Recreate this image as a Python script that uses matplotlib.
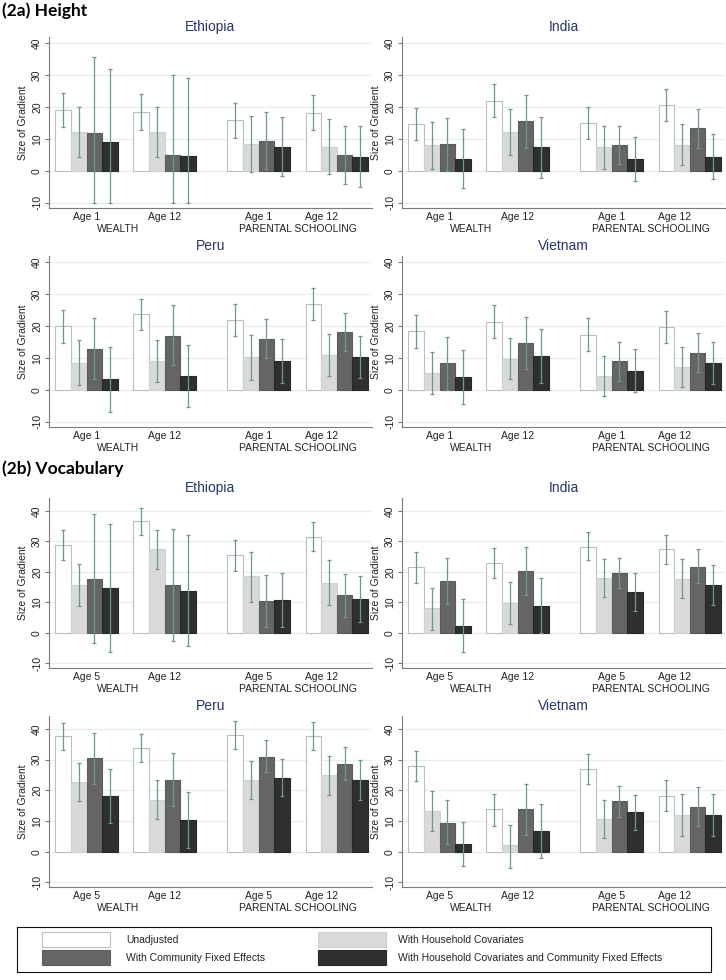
import numpy as np
import matplotlib
matplotlib.use('Agg')
import matplotlib.pyplot as plt
from matplotlib.patches import Rectangle

plt.rcParams['font.family'] = ['Liberation Sans', 'DejaVu Sans']

# Labels
series_names = ['Unadjusted', 'With Household Covariates',
                'With Community Fixed Effects',
                'With Household Covariates and Community Fixed Effects']
height_ages = ['Age 1', 'Age 12', 'Age 1', 'Age 12']
vocab_ages = ['Age 5', 'Age 12', 'Age 5', 'Age 12']
headings = ['WEALTH', 'PARENTAL SCHOOLING']

# rows = groups (wealth age a, wealth age b, schooling age a, schooling age b)
# cols = the four series
h_eth = [[19.0, 12.1, 11.8, 8.9], [18.4, 12.1, 5.0, 4.8], [15.9, 8.5, 9.3, 7.5], [18.1, 7.6, 4.9, 4.4]]
h_eth_lo = [[13.6, 4.5, -10, -10], [12.8, 4.5, -10, -10], [10.4, -0.2, 0.7, -1.5], [12.7, -0.9, -4.1, -4.9]]
h_eth_hi = [[24.3, 19.9, 35.5, 32.0], [24.0, 19.9, 30.0, 29.0], [21.2, 17.2, 18.4, 17.0], [23.6, 16.2, 14.2, 14.1]]

h_ind = [[14.7, 8.0, 8.5, 3.8], [22.0, 12.1, 15.6, 7.4], [14.9, 7.4, 8.0, 3.6], [20.6, 8.1, 13.4, 4.4]]
h_ind_lo = [[9.7, 0.7, 0.1, -5.4], [16.8, 5.0, 7.3, -2.1], [9.9, 0.7, 2.2, -3.2], [15.6, 1.7, 7.3, -2.4]]
h_ind_hi = [[19.7, 15.2, 16.6, 13.1], [27.2, 19.3, 23.9, 16.8], [19.9, 13.9, 14.1, 10.5], [25.6, 14.6, 19.3, 11.4]]

h_per = [[20.0, 8.4, 12.9, 3.3], [23.6, 9.2, 17.0, 4.4], [21.9, 10.2, 16.0, 9.0], [27.0, 10.9, 18.2, 10.3]]
h_per_lo = [[14.7, 1.5, 3.4, -6.8], [18.8, 2.5, 7.8, -5.4], [16.8, 3.1, 10.0, 2.1], [22.0, 4.3, 12.3, 3.8]]
h_per_hi = [[25.0, 15.7, 22.5, 13.4], [28.6, 15.7, 26.5, 14.1], [27.0, 17.2, 22.1, 15.9], [31.8, 17.5, 24.2, 16.9]]

h_vnm = [[18.3, 5.3, 8.3, 4.1], [21.3, 9.8, 14.6, 10.5], [17.2, 4.5, 8.9, 5.9], [19.6, 7.3, 11.6, 8.4]]
h_vnm_lo = [[13.1, -1.3, 0.0, -4.4], [16.1, 3.3, 6.5, 2.2], [12.2, -1.9, 2.8, -0.7], [14.6, 0.9, 5.5, 1.9]]
h_vnm_hi = [[23.5, 11.8, 16.7, 12.4], [26.6, 16.4, 22.7, 19.0], [22.4, 10.7, 15.1, 12.7], [24.6, 13.3, 17.8, 14.9]]

v_eth = [[28.8, 15.7, 17.7, 14.6], [36.6, 27.5, 15.6, 13.8], [25.5, 18.6, 10.4, 10.7], [31.5, 16.5, 12.4, 11.1]]
v_eth_lo = [[23.9, 8.7, -3.4, -6.2], [32.2, 21.1, -2.8, -4.4], [20.2, 10.2, 2.0, 1.9], [26.7, 9.2, 5.3, 3.5]]
v_eth_hi = [[33.8, 22.5, 39.0, 35.6], [41.0, 33.7, 34.0, 32.2], [30.6, 26.6, 18.9, 19.6], [36.4, 23.8, 19.4, 18.5]]

v_ind = [[21.5, 8.0, 17.0, 2.3], [22.9, 9.8, 20.2, 8.9], [28.3, 18.0, 19.6, 13.4], [27.4, 17.7, 21.7, 15.6]]
v_ind_lo = [[16.2, 1.1, 9.4, -6.1], [18.1, 2.8, 12.4, 0.0], [23.8, 11.9, 14.7, 7.2], [22.6, 11.4, 16.3, 9.2]]
v_ind_hi = [[26.5, 14.7, 24.7, 11.0], [27.8, 16.6, 28.0, 18.1], [32.9, 24.1, 24.7, 19.6], [32.0, 24.2, 27.4, 22.1]]

v_per = [[37.6, 22.6, 30.5, 18.1], [33.7, 17.0, 23.5, 10.2], [38.1, 23.3, 30.9, 24.0], [37.6, 24.9, 28.5, 23.4]]
v_per_lo = [[33.0, 16.6, 22.2, 9.3], [29.2, 10.8, 15.0, 1.1], [33.6, 17.3, 25.9, 18.0], [33.1, 18.4, 23.2, 17.0]]
v_per_hi = [[41.9, 28.9, 38.6, 27.0], [38.3, 23.4, 32.0, 19.3], [42.5, 29.5, 36.3, 30.3], [42.1, 31.3, 34.0, 29.8]]

v_vnm = [[27.8, 13.2, 9.4, 2.5], [13.9, 2.1, 13.9, 6.9], [26.8, 10.6, 16.4, 12.8], [18.3, 12.0, 14.6, 12.0]]
v_vnm_lo = [[23.0, 6.6, 2.4, -4.8], [8.4, -5.2, 5.4, -1.9], [21.9, 4.5, 11.3, 7.1], [13.1, 5.2, 8.4, 5.1]]
v_vnm_hi = [[32.8, 19.7, 16.7, 9.8], [18.9, 8.7, 22.1, 15.6], [31.7, 16.7, 21.5, 18.6], [23.3, 18.8, 21.0, 18.9]]

# styling
fills = ['#ffffff', '#d9d9d9', '#656565', '#2f2f2f']
edges = ['#bdbdbd', '#d0d0d0', '#5c5c5c', '#282828']
err_col = '#6f978a'
grid_col = '#e6eff0'
title_col = '#27346e'
text_col = '#222222'

W, H = 726, 980
fig = plt.figure(figsize=(W / 100, H / 100), dpi=100)


def px_axes(l, t, r, b):
    return fig.add_axes([l / W, 1 - b / H, (r - l) / W, (b - t) / H])


group_start = np.array([0, 5, 11, 16])
group_mid = group_start + 2.0
tick_pos = group_mid + np.array([0, 0, 0, -0.95])
head_pos = [4.0, 15.5]


def draw_panel(ax, title, est, lo, hi, ages, ylim):
    est = np.array(est)
    lo = np.array(lo)
    hi = np.array(hi)
    ax.set_axisbelow(True)
    for j in range(4):
        x = group_start + 0.5 + j
        ax.bar(x, est[:, j], width=1.0, color=fills[j], edgecolor=edges[j],
               linewidth=0.8, zorder=2)
        ax.errorbar(x, est[:, j], yerr=[est[:, j] - lo[:, j], hi[:, j] - est[:, j]],
                    fmt='none', ecolor=err_col, elinewidth=0.9, capsize=1.6,
                    capthick=0.9, zorder=3)
    ax.set_xlim(-0.4, 20.25)
    ax.set_ylim(*ylim)
    ax.set_yticks([-10, 0, 10, 20, 30, 40])
    ax.set_yticklabels(['-10', '0', '10', '20', '30', '40'], rotation=90,
                       va='center', fontsize=7.5, color=text_col)
    ax.yaxis.grid(True, color=grid_col, linewidth=0.9)
    ax.set_xticks(tick_pos)
    ax.set_xticklabels(ages, fontsize=7.5, color=text_col)
    ax.tick_params(axis='x', length=0, pad=3)
    ax.tick_params(axis='y', length=3, color='#777777', pad=2)
    for s in ['top', 'right']:
        ax.spines[s].set_visible(False)
    for s in ['left', 'bottom']:
        ax.spines[s].set_color('#7a7a7a')
        ax.spines[s].set_linewidth(0.8)
    ax.set_ylabel('Size of Gradient', fontsize=7.5, color=text_col, labelpad=3)
    ax.set_title(title, fontsize=10, color=title_col, pad=4)
    for hp, hd in zip(head_pos, headings):
        ax.annotate(hd, xy=(hp, 0), xycoords=ax.get_xaxis_transform(),
                    xytext=(0, -11.5), textcoords='offset points',
                    ha='center', va='top', fontsize=7.5, color=text_col)


h_lim = (-11.6, 41.9)
v_lim = (-11.5, 44.2)

left_x = (49, 372)
right_x = (402, 725)
rows = [(37, 208), (256, 427), (498, 668), (716, 887)]

panels = [
    (left_x, rows[0], 'Ethiopia', h_eth, h_eth_lo, h_eth_hi, height_ages, h_lim),
    (right_x, rows[0], 'India', h_ind, h_ind_lo, h_ind_hi, height_ages, h_lim),
    (left_x, rows[1], 'Peru', h_per, h_per_lo, h_per_hi, height_ages, h_lim),
    (right_x, rows[1], 'Vietnam', h_vnm, h_vnm_lo, h_vnm_hi, height_ages, h_lim),
    (left_x, rows[2], 'Ethiopia', v_eth, v_eth_lo, v_eth_hi, vocab_ages, v_lim),
    (right_x, rows[2], 'India', v_ind, v_ind_lo, v_ind_hi, vocab_ages, v_lim),
    (left_x, rows[3], 'Peru', v_per, v_per_lo, v_per_hi, vocab_ages, v_lim),
    (right_x, rows[3], 'Vietnam', v_vnm, v_vnm_lo, v_vnm_hi, vocab_ages, v_lim),
]

for (xl, xr), (yt, yb), title, est, lo, hi, ages, ylim in panels:
    ax = px_axes(xl, yt, xr, yb)
    draw_panel(ax, title, est, lo, hi, ages, ylim)

# section headers
fig.text(2 / W, 1 - 11 / H, '(2a) Height', fontsize=12.5, fontweight='bold',
         family=['Lato', 'DejaVu Sans'], va='center', ha='left')
fig.text(2 / W, 1 - 469 / H, '(2b) Vocabulary', fontsize=12.5, fontweight='bold',
         family=['Lato', 'DejaVu Sans'], va='center', ha='left')

# legend box
lx0, lx1, ly0, ly1 = 17, 711, 927, 972
lax = px_axes(lx0, ly0, lx1, ly1)
lax.set_xlim(lx0, lx1)
lax.set_ylim(ly1, ly0)
lax.set_xticks([])
lax.set_yticks([])
for s in lax.spines.values():
    s.set_color('#111111')
    s.set_linewidth(0.8)
sw_x = [42, 42, 318, 318]
sw_y = [932, 950, 932, 950]
txt_x = [126, 126, 398, 398]
order = [0, 2, 1, 3]
for k, j in enumerate(order):
    lax.add_patch(Rectangle((sw_x[k], sw_y[k]), 68, 15, facecolor=fills[j],
                            edgecolor=edges[j], linewidth=0.8))
    lax.text(txt_x[k], sw_y[k] + 7.5, series_names[j], fontsize=7.5,
             va='center', ha='left', color=text_col)

fig.savefig('out.png', dpi=100)
